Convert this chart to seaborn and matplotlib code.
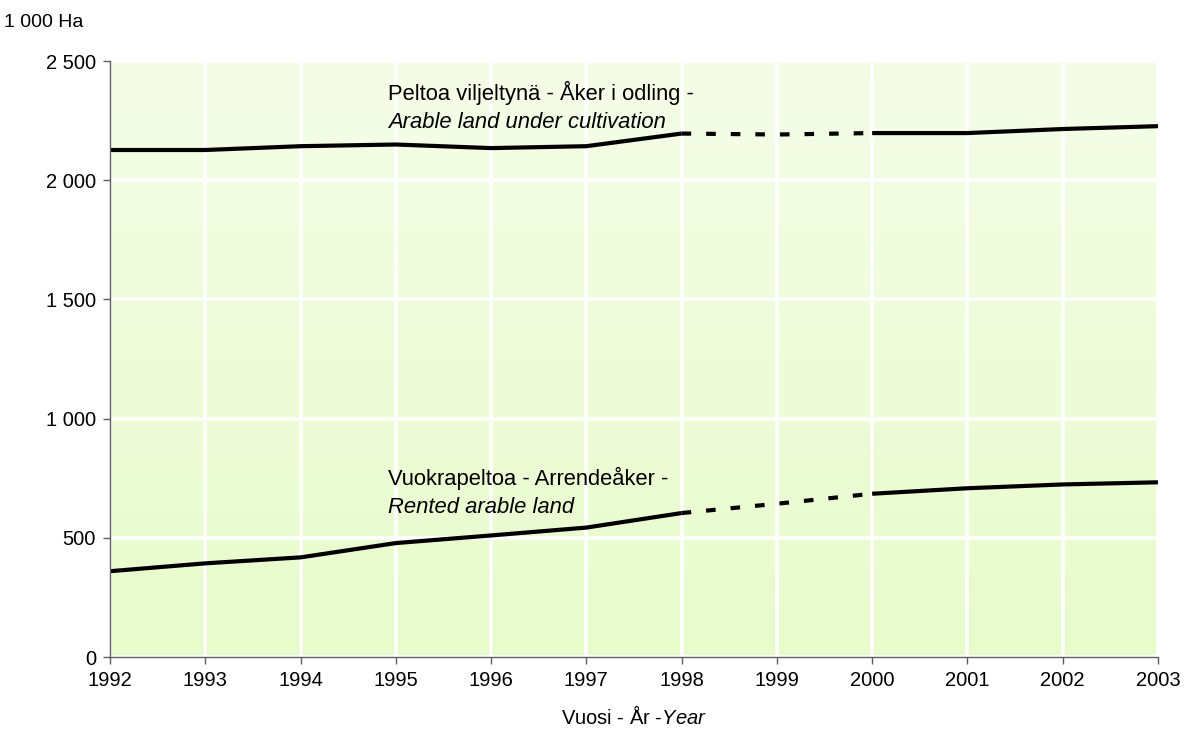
import numpy as np
import pandas as pd
import matplotlib
matplotlib.use("Agg")
import matplotlib.pyplot as plt
from matplotlib.colors import LinearSegmentedColormap
import seaborn as sns

years = [1992, 1993, 1994, 1995, 1996, 1997, 1998, 1999, 2000, 2001, 2002, 2003]
cultivated = [2127, 2127, 2143, 2150, 2135, 2143, 2196, 2192, 2198, 2198, 2215, 2227]
rented = [360, 393, 418, 478, 510, 543, 604, 643, 685, 708, 724, 733]
yticks = [0, 500, 1000, 1500, 2000, 2500]
ytick_labels = ["0", "500", "1 000", "1 500", "2 000", "2 500"]

sns.set_style("white")
plt.rcParams['font.family'] = ['Liberation Sans', 'DejaVu Sans']
plt.rcParams['mathtext.fontset'] = 'custom'
plt.rcParams['mathtext.rm'] = 'Liberation Sans'
plt.rcParams['mathtext.it'] = 'Liberation Sans:italic'
plt.rcParams['text.color'] = 'black'
plt.rcParams['xtick.color'] = 'black'
plt.rcParams['ytick.color'] = 'black'
plt.rcParams['axes.labelcolor'] = 'black'

FS = 14.5
FS_NOTE = 15.8

df = pd.DataFrame({'year': years, 'cultivated': cultivated, 'rented': rented})
# solid before gap, dotted over the break, solid after
before = df[df.year <= 1998]
gap = df[(df.year >= 1998) & (df.year <= 2000)]
after = df[df.year >= 2000]

fig = plt.figure(figsize=(11.84, 7.36), dpi=100)
ax = fig.add_axes([0.0929, 0.1073, 0.978 - 0.0929, 0.917 - 0.1073])

# background gradient
cmap = LinearSegmentedColormap.from_list("bg", ["#E8FBCB", "#F5FDE8"])
grad = np.linspace(0, 1, 256).reshape(-1, 1)
ax.imshow(grad, aspect='auto', cmap=cmap, origin='lower',
          extent=(1992, 2003, 0, 2500), zorder=0)

for col in ['cultivated', 'rented']:
    sns.lineplot(data=before, x='year', y=col, ax=ax, color='black', lw=3.0,
                 zorder=3, solid_capstyle='butt')
    sns.lineplot(data=after, x='year', y=col, ax=ax, color='black', lw=3.0,
                 zorder=3, solid_capstyle='butt')
    sns.lineplot(data=gap, x='year', y=col, ax=ax, color='black', lw=3.0,
                 zorder=3, dashes=False, linestyle=(0, (2.3, 3.6)),
                 dash_capstyle='butt')

ax.set_xlim(1992, 2003)
ax.set_ylim(0, 2500)
ax.set_xticks(years)
ax.set_xticklabels([str(y) for y in years], fontsize=FS)
ax.set_yticks(yticks)
ax.set_yticklabels(ytick_labels, fontsize=FS)
ax.grid(True, color='white', lw=2.6, zorder=1)
ax.set_axisbelow(True)
for s in ['top', 'right']:
    ax.spines[s].set_visible(False)
for s in ['left', 'bottom']:
    ax.spines[s].set_color('#606060')
    ax.spines[s].set_linewidth(1.0)
    ax.spines[s].set_zorder(4)
ax.tick_params(axis='both', direction='out', length=5, width=1, color='#606060',
               pad=5, left=True, bottom=True)
ax.set_xlabel('Vuosi - År -$\\it{Year}$', fontsize=FS, labelpad=11)
ax.set_ylabel('')

fig.text(0.003, 0.970, '1 000 Ha', fontsize=14, ha='left', va='center')

ax.text(1994.92, 2366, 'Peltoa viljeltynä - Åker i odling -', fontsize=FS_NOTE,
        ha='left', va='center', zorder=5)
ax.text(1994.92, 2244, 'Arable land under cultivation', fontsize=FS_NOTE,
        style='italic', ha='left', va='center', zorder=5)
ax.text(1994.92, 751, 'Vuokrapeltoa - Arrendeåker -', fontsize=FS_NOTE,
        ha='left', va='center', zorder=5)
ax.text(1994.92, 629, 'Rented arable land', fontsize=FS_NOTE,
        style='italic', ha='left', va='center', zorder=5)

fig.savefig('out.png', dpi=100)
